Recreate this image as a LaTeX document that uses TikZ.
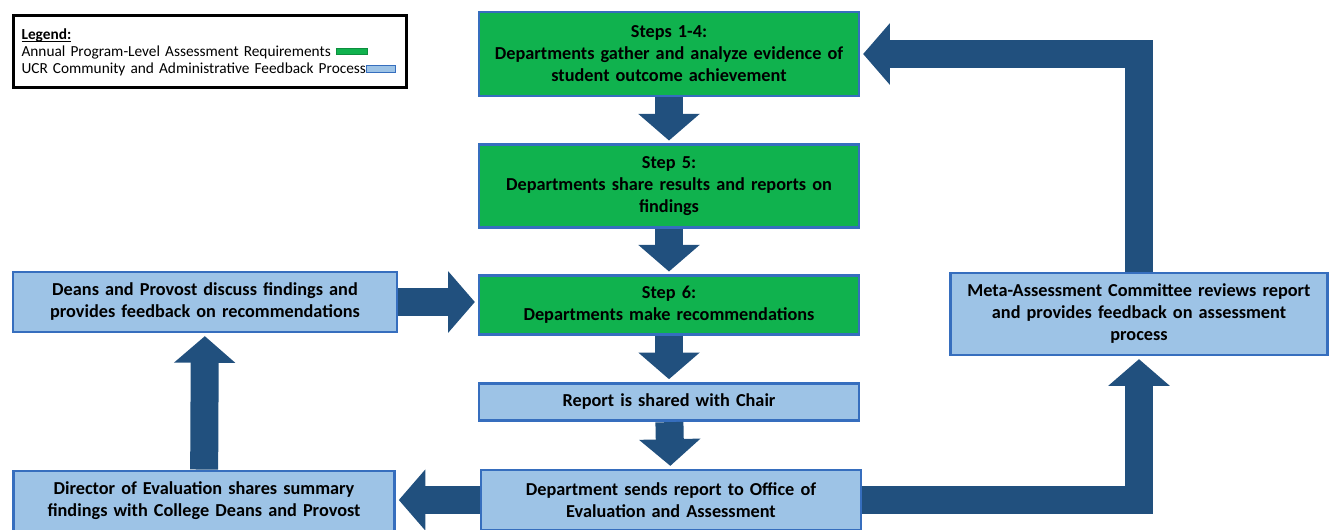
\documentclass[tikz,border=0pt]{standalone}
\usepackage{fontspec}
\setmainfont{Carlito}
\usepackage{xcolor}
\usetikzlibrary{arrows.meta}
\usetikzlibrary{positioning}

\definecolor{arrowblue}{RGB}{33,80,126}
\definecolor{edgeblue}{RGB}{54,110,190}
\definecolor{stepgreen}{RGB}{16,178,78}
\definecolor{paleblue}{RGB}{157,195,230}

% little colour keys for the legend
\newcommand{\greenkey}{\raisebox{1.5pt}{\fcolorbox{stepgreen!80!black}{stepgreen}{\rule{0pt}{4pt}\rule{23pt}{0pt}}}}
\newcommand{\bluekey}{\raisebox{1pt}{\fcolorbox{edgeblue}{paleblue}{\rule{0pt}{4.5pt}\rule{21pt}{0pt}}}}

\tikzset{
  stepbox/.style={draw=edgeblue, line width=2.2pt, fill=stepgreen, text width=275pt, align=center,
    minimum width=285pt, inner sep=3pt, font=\bfseries\fontsize{13.7}{16.5}\selectfont},
  feedbox/.style={stepbox, fill=paleblue},
  fatarrow/.style={draw=arrowblue, line width=21pt, line join=miter,
    -{Triangle[length=20pt,width=45pt]}, shorten >=2pt},
  legendbox/.style={draw=black, line width=2.3pt, fill=white, text width=283pt, align=left,
    minimum width=295pt, minimum height=54pt, inner xsep=6pt, inner ysep=4pt,
    font=\fontsize{11.5}{12.8}\selectfont}
}

\begin{document}
\begin{tikzpicture}[x=0.75pt,y=-0.75pt]
\useasboundingbox (0,0) rectangle (1335,529);
\fboxsep=0pt \fboxrule=0.6pt

% legend
\node[legendbox, anchor=north west] (legend) at (12,14)
  {\textbf{\underline{\smash{Legend:}}}\strut\\
   Annual Program-Level Assessment Requirements \greenkey\\
   UCR Community and Administrative Feedback Process\bluekey};

% main column
\node[stepbox, minimum height=63pt] (steps) at (669,54)
  {Steps 1-4:\\ Departments gather and analyze evidence of\\ student outcome achievement};
\node[stepbox, minimum height=62pt] (share) at (669,186)
  {Step 5:\\ Departments share results and reports on\\ findings};
\node[stepbox, minimum height=44pt] (recommend) at (669,305)
  {Step 6:\\ Departments make recommendations};
\node[feedbox, minimum height=28pt] (chair) at (669,402)
  {Report is shared with Chair};
\node[feedbox, minimum height=45pt] (office) at (671,500)
  {Department sends report to Office of\\ Evaluation and Assessment};

% left side
\node[feedbox, minimum width=288pt, minimum height=45pt] (deans) at (205,302)
  {Deans and Provost discuss findings and\\ provides feedback on recommendations};
\node[feedbox, minimum width=286pt, minimum height=45pt] (director) at (204,501)
  {Director of Evaluation shares summary\\ findings with College Deans and Provost};

% right side
\node[feedbox, minimum width=283pt, minimum height=61.5pt] (meta) at (1139,314)
  {Meta-Assessment Committee reviews report\\ and provides feedback on assessment\\ process};

% arrows
\draw[fatarrow] (steps) -- (share);
\draw[fatarrow] (share) -- (recommend);
\draw[fatarrow] (recommend) -- (chair);
\draw[fatarrow] (chair) -- (office);
\draw[fatarrow] (office.west) -- (director.east |- office.west);
\draw[fatarrow] (director) -- (deans);
\draw[fatarrow] (deans.east) -- (recommend.west |- deans.east);
\draw[fatarrow] (office.east) -| (meta.south);
\draw[fatarrow] (meta.north) |- (steps.east);
\end{tikzpicture}
\end{document}
